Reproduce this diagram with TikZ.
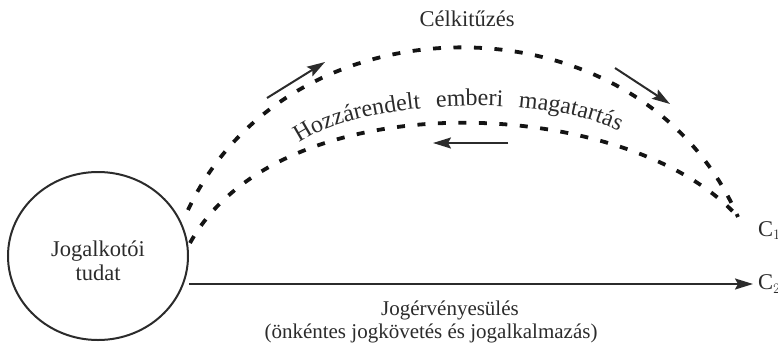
\documentclass[tikz,border=0pt]{standalone}
\usepackage{fontspec}
\setmainfont{Liberation Serif}
\usetikzlibrary{arrows.meta,shapes.geometric,decorations.text}
\definecolor{ink}{HTML}{2B2B2B}
\begin{document}
\tikzset{
  lbl/.style={font=\fontsize{22.5}{24}\selectfont, text=ink},
  lblsmall/.style={font=\fontsize{21}{23}\selectfont, text=ink},
  dotarc/.style={line width=3.8pt, dash pattern=on 8pt off 12.5pt, black!92},
  arr/.style={draw=ink, line width=2pt, -{Stealth[length=18pt,width=11pt,inset=3pt]}, fill=ink},
  bubble/.style={ellipse, draw=ink, line width=2pt, minimum width=180pt, minimum height=168pt, inner sep=0pt},
}
\begin{tikzpicture}[x=1pt,y=-1pt]
\useasboundingbox (0,0) rectangle (778,351);
% circle
\node[bubble] (jt) at (98,256) {};
\node[lbl, align=center, anchor=base] (jtt) at (98,280) {Jogalkotói\\tudat};
% end labels
\node[lbl, anchor=base west, inner sep=0pt] (c1) at (758,236) {C$_1$};
\node[lbl, anchor=west, inner sep=0pt] (c2) at (758,284) {C$_2$};
% arc coordinates
\coordinate (oa) at (188,210);
\coordinate (ia) at (190,243);
\coordinate (e) at (738,217);
% dotted arcs
\draw[dotarc] (oa) .. controls (290,-8) and (640,-8) .. (e);
\draw[dotarc] (ia) .. controls (280,80) and (628,94) .. (e);
% horizontal arrow
\draw[arr] (jt.east |- c2.west) -- ([xshift=-5pt]c2.west);
% small arrows
\coordinate (a1s) at (267,98);  \coordinate (a1e) at (325,62);
\coordinate (a2s) at (615,68);  \coordinate (a2e) at (670,104);
\coordinate (a3s) at (508,143); \coordinate (a3e) at (433,143);
\draw[arr] (a1s) -- (a1e);
\draw[arr] (a2s) -- (a2e);
\draw[arr] (a3s) -- (a3e);
% labels
\node[lbl, anchor=base] (cel) at (467,26) {Célkitűzés};
\path[decorate, decoration={text along path, text align=fit to path stretching spaces,
   text={|\fontsize{24}{26}\selectfont\color{ink}|Hozzárendelt emberi magatartás}}]
   (299,143) .. controls (360,100) and (540,92) .. (619,131);
\node[lblsmall, align=center, anchor=base] (jog) at (431,338)
   {\hspace*{38pt}Jogérvényesülés\\(önkéntes jogkövetés és jogalkalmazás)};
\end{tikzpicture}
\end{document}
